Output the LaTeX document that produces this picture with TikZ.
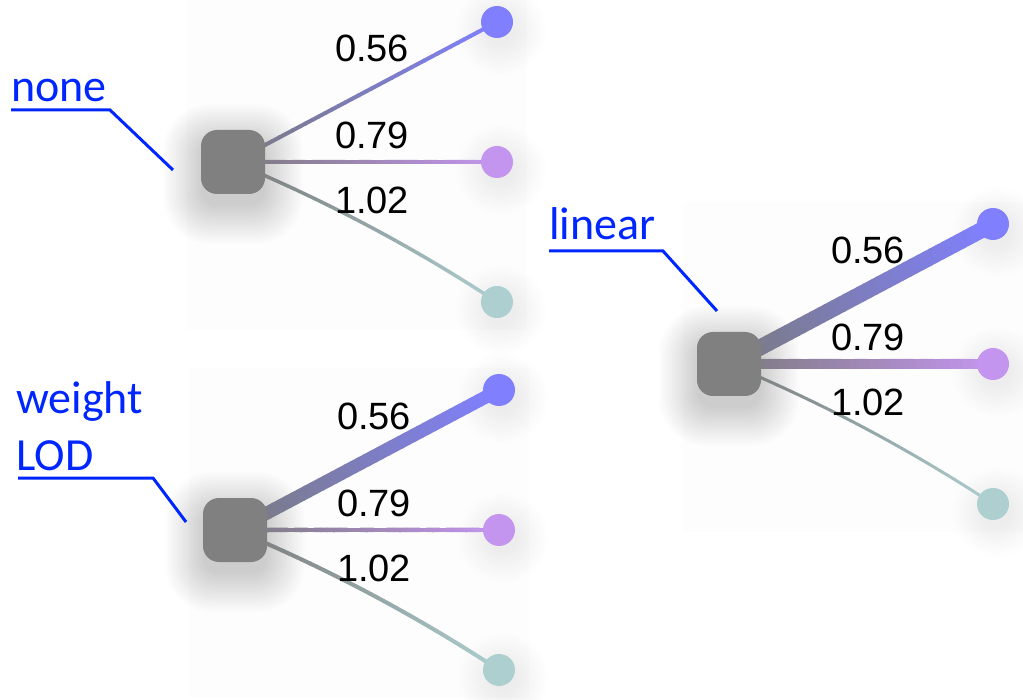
\documentclass[tikz,border=0pt]{standalone}
\usepackage{fontspec}
\setmainfont{Liberation Sans}
\newfontfamily\calib{Carlito}
\usetikzlibrary{calc}
\definecolor{sqgray}{RGB}{128,128,128}
\definecolor{cA}{RGB}{128,128,255}
\definecolor{cB}{RGB}{196,149,238}
\definecolor{cC}{RGB}{174,207,208}
\definecolor{lblue}{RGB}{0,38,255}
\definecolor{edgeg}{RGB}{122,122,124}
\definecolor{panelbg}{RGB}{253,253,253}
\pgfdeclarelayer{bg}\pgfdeclarelayer{edges}\pgfsetlayers{bg,edges,main}
\tikzset{
 sq/.style={draw=none, fill=sqgray, minimum size=64pt, rounded corners=16pt, inner sep=0pt},
 dot/.style={circle, draw=none, minimum size=32pt, inner sep=0pt},
 val/.style={font=\fontsize{38}{44}\selectfont, text=black, inner sep=0pt},
 tag/.style={font=\calib\fontsize{46}{57}\selectfont, text=lblue, inner sep=0pt, align=left},
 tagline/.style={draw=lblue, line width=3pt},
}
% #1 from, #2 control, #3 to, #4 end colour, #5 width
\newcommand\gradedge[5]{%
 \foreach \i in {0,...,39}{%
   \pgfmathsetmacro\ta{\i/40}\pgfmathsetmacro\tb{(\i+1)/40}%
   \pgfmathsetmacro\qa{(1-\ta)^2}\pgfmathsetmacro\qb{2*\ta*(1-\ta)}\pgfmathsetmacro\qc{\ta^2}%
   \pgfmathsetmacro\qd{(1-\tb)^2}\pgfmathsetmacro\qe{2*\tb*(1-\tb)}\pgfmathsetmacro\qf{\tb^2}%
   \pgfmathtruncatemacro\pc{100*(\ta+\tb)/2}%
   \draw[line width=#5, line cap=round, draw=#4!\pc!edgeg]
     ($\qa*(#1)+\qb*(#2)+\qc*(#3)$) -- ($\qd*(#1)+\qe*(#2)+\qf*(#3)$);
 }}
% #1 prefix, #2 x, #3 y, #4 top width, #5 mid width, #6 bottom width
\newcommand\panel[6]{%
 \begin{pgfonlayer}{bg}
   \fill[panelbg] (#2-46,#3-162) rectangle (#2+294,#3+168);
   \foreach \k in {0,...,15}{%
     \fill[black, opacity=0.01, rounded corners=16pt+2*\k pt]
       (#2-32-2.5*\k,#3-32-2.5*\k+12) rectangle (#2+32+2.5*\k,#3+32+2.5*\k+12);
     \foreach \dy in {-140,0,140}{%
       \fill[black, opacity=0.005] (#2+264+4,#3+\dy+8) circle (15pt+2*\k pt);
     }
   }
 \end{pgfonlayer}
 \node[sq] (#1n) at (#2,#3) {};
 \node[dot, fill=cA] (#1a) at (#2+264,#3-140) {};
 \node[dot, fill=cB] (#1b) at (#2+264,#3) {};
 \node[dot, fill=cC] (#1c) at (#2+264,#3+140) {};
 \coordinate (#1ma) at ($(#1n.center)!0.5!(#1a.center)$);
 \coordinate (#1mb) at ($(#1n.center)!0.5!(#1b.center)$);
 \coordinate (#1mc) at ($(#1n.center)!0.5!(#1c.center)!14pt!90:(#1c.center)$);
 \begin{pgfonlayer}{edges}
   \gradedge{#1n.center}{#1ma}{#1a.center}{cA}{#4}
   \gradedge{#1n.center}{#1mb}{#1b.center}{cB}{#5}
   \gradedge{#1n.center}{#1mc}{#1c.center}{cC}{#6}
 \end{pgfonlayer}
 \node[val] (#1la) at (#2+139,#3-114) {0.56};
 \node[val] (#1lb) at (#2+139,#3-27) {0.79};
 \node[val] (#1lc) at (#2+139,#3+38) {1.02};
}
\begin{document}
\begin{tikzpicture}[x=1pt,y=-1pt]
\useasboundingbox (0,0) rectangle (1023,700);
\panel{p}{233}{162}{4pt}{4pt}{3.5pt}
\panel{q}{729}{364}{16pt}{10pt}{3pt}
\panel{r}{235}{530}{13pt}{4.5pt}{4pt}
% tags
\node[tag, anchor=base west] (tnone) at (11,102) {none};
\coordinate (u1a) at (11,110); \coordinate (u1b) at (110,110); \coordinate (u1c) at (173,170);
\draw[tagline] (u1a) -- (u1b) -- (u1c);
\node[tag, anchor=base west] (tlin) at (549,240) {linear};
\coordinate (u2a) at (549,251); \coordinate (u2b) at (663,251); \coordinate (u2c) at (717,311);
\draw[tagline] (u2a) -- (u2b) -- (u2c);
\node[tag, anchor=base west] (tlod) at (16,470) {weight\\LOD};
\coordinate (u3a) at (18,478); \coordinate (u3b) at (153,478); \coordinate (u3c) at (186,522);
\draw[tagline] (u3a) -- (u3b) -- (u3c);
\end{tikzpicture}
\end{document}
